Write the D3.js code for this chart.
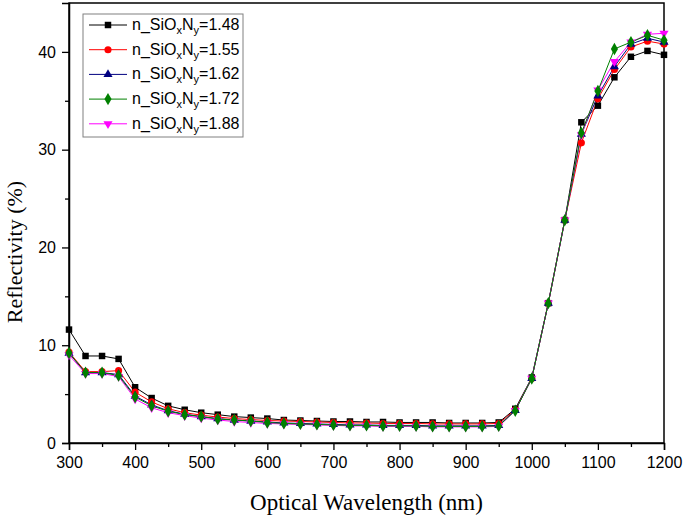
<!DOCTYPE html>
<html><head><meta charset="utf-8">
<script src="https://cdn.jsdelivr.net/npm/d3@7/dist/d3.min.js"></script>
<style>body{margin:0;background:#fff}svg{display:block}</style>
</head><body>
<svg id="chart" width="685" height="517"></svg>
<script>
const wavelengths = d3.range(300, 1201, 25);
const labels = ["1.48","1.55","1.62","1.72","1.88"];
const s148 = [11.6,8.9,8.9,8.6,5.7,4.6,3.8,3.4,3.1,2.9,2.7,2.6,2.5,2.35,2.3,2.25,2.2,2.2,2.15,2.15,2.1,2.1,2.1,2.05,2.05,2.05,2.1,3.5,6.7,14.3,22.8,32.8,34.5,37.4,39.5,40.1,39.7];
const s155 = [9.3,7.3,7.3,7.4,5.2,4.2,3.5,3.1,2.85,2.65,2.5,2.4,2.3,2.25,2.2,2.15,2.1,2.05,2.05,2.0,2.0,2.0,1.95,1.95,1.95,1.95,2.0,3.4,6.6,14.3,22.8,30.7,35.2,38.2,40.5,41.1,40.8];
const s162 = [9.2,7.2,7.2,7.0,4.8,3.9,3.3,2.95,2.7,2.5,2.35,2.25,2.15,2.05,2.0,1.95,1.9,1.85,1.85,1.8,1.8,1.8,1.75,1.75,1.75,1.75,1.8,3.35,6.6,14.3,22.8,31.6,35.5,38.5,40.8,41.4,41.0];
const s172 = [9.2,7.2,7.2,6.9,4.7,3.8,3.25,2.9,2.7,2.45,2.35,2.25,2.1,2.0,1.95,1.9,1.85,1.8,1.8,1.75,1.75,1.75,1.7,1.7,1.7,1.7,1.75,3.3,6.6,14.3,22.8,31.7,36.0,40.3,41.0,41.7,41.2];
const s188 = [9.0,7.1,7.1,6.8,4.5,3.6,3.1,2.8,2.55,2.35,2.2,2.1,2.0,1.95,1.9,1.85,1.8,1.75,1.75,1.7,1.7,1.7,1.65,1.65,1.65,1.65,1.7,3.3,6.6,14.3,22.8,31.5,36.1,39.0,41.0,41.8,41.9];
const xTicks = [300,400,500,600,700,800,900,1000,1100,1200];
const yTicks = [0,10,20,30,40];

const series = [
  {label: labels[0], values: s148, color: "#000000", sym: d3.symbolSquare, size: 42},
  {label: labels[1], values: s155, color: "#ff0000", sym: d3.symbolCircle, size: 40},
  {label: labels[2], values: s162, color: "#000080", sym: d3.symbolTriangle, size: 36},
  {label: labels[3], values: s172, color: "#008000", sym: d3.symbolDiamond, size: 44},
  {label: labels[4], values: s188, color: "#ff00ff", sym: d3.symbolTriangle, size: 36, rot: 180}
];
const drawOrder = [0,1,2,4,3];

const svg = d3.select("#chart");
const L = 69, R = 664, T = 3, B = 443;
const x = d3.scaleLinear().domain([300,1200]).range([L,R]);
const y = d3.scaleLinear().domain([0,45]).range([B,T]);

// frame
svg.append("rect").attr("x",L).attr("y",T).attr("width",R-L).attr("height",B-T)
  .attr("fill","none").attr("stroke","#000").attr("stroke-width",1.5);

// axes
svg.append("g").attr("transform",`translate(0,${B})`)
  .call(d3.axisBottom(x).tickValues(xTicks).tickFormat(d3.format("d")).tickSize(7).tickPadding(7));
svg.append("g").attr("transform",`translate(0,${B})`)
  .call(d3.axisBottom(x).tickValues(d3.range(350,1200,100)).tickFormat("").tickSize(4))
  .call(g=>g.select(".domain").remove());
svg.append("g").attr("transform",`translate(${L},0)`)
  .call(d3.axisLeft(y).tickValues(yTicks).tickSize(7).tickPadding(6));
svg.append("g").attr("transform",`translate(${L},0)`)
  .call(d3.axisLeft(y).tickValues([5,15,25,35]).tickFormat("").tickSize(4))
  .call(g=>g.select(".domain").remove());
svg.selectAll(".domain").attr("stroke-width",1.5);
svg.selectAll(".tick line").attr("stroke-width",1.3);
svg.selectAll(".tick text").attr("font-family","Liberation Sans, Arial, sans-serif").attr("font-size",16).attr("fill","#000");

// titles
svg.append("text").attr("x",(L+R)/2).attr("y",510).attr("text-anchor","middle")
  .attr("font-family","Liberation Serif, Times New Roman, serif").attr("font-size",23)
  .text("Optical Wavelength (nm)");
svg.append("text").attr("transform","translate(22,252) rotate(-90)").attr("text-anchor","middle")
  .attr("font-family","Liberation Serif, Times New Roman, serif").attr("font-size",22)
  .text("Reflectivity (%)");

// series
const line = d3.line().x((d,i)=>x(wavelengths[i])).y(d=>y(d));
const plot = svg.append("g");
drawOrder.forEach(k=>{
  const s = series[k];
  plot.append("path").datum(s.values).attr("d",line).attr("fill","none")
    .attr("stroke",s.color).attr("stroke-width",1);
});
drawOrder.forEach(k=>{
  const s = series[k];
  const sym = d3.symbol().type(s.sym).size(s.size);
  plot.append("g").selectAll("path").data(s.values).join("path")
    .attr("d",sym)
    .attr("transform",(d,i)=>`translate(${x(wavelengths[i])},${y(d)})${s.rot?` rotate(${s.rot})`:""}`)
    .attr("fill",s.color);
});

// legend
const lg = svg.append("g");
lg.append("rect").attr("x",83).attr("y",14).attr("width",160).attr("height",123)
  .attr("fill","#fff").attr("stroke","#808080").attr("stroke-width",1);
series.forEach((s,i)=>{
  const cy = 25 + i*24.7;
  lg.append("line").attr("x1",89).attr("x2",127).attr("y1",cy).attr("y2",cy)
    .attr("stroke",s.color).attr("stroke-width",1);
  lg.append("path").attr("d",d3.symbol().type(s.sym).size(s.size)())
    .attr("transform",`translate(108,${cy})${s.rot?` rotate(${s.rot})`:""}`).attr("fill",s.color);
  const t = lg.append("text").attr("x",132).attr("y",cy+5)
    .attr("font-family","Liberation Sans, Arial, sans-serif").attr("font-size",16).attr("fill","#000");
  t.append("tspan").text("n_SiO");
  t.append("tspan").attr("font-size",11).attr("dy",4).text("x");
  t.append("tspan").attr("dy",-4).text("N");
  t.append("tspan").attr("font-size",11).attr("dy",4).text("y");
  t.append("tspan").attr("dy",-4).text("=" + s.label);
});
</script>
</body></html>
